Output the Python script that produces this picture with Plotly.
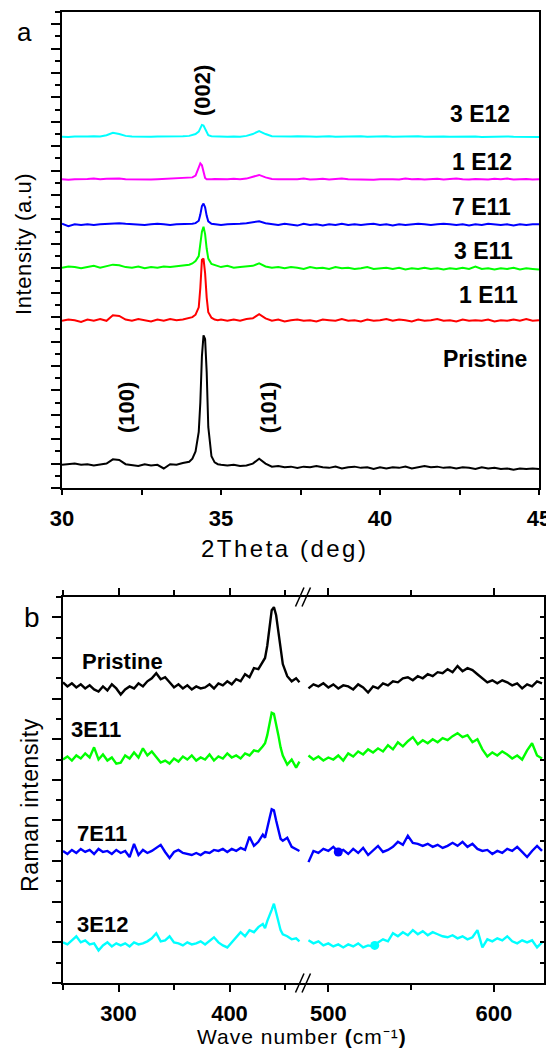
import plotly.graph_objects as go

# ---------------- Panel a : XRD ----------------
xrd_2theta = [30.0,30.2,30.4,30.6,30.8,31.0,31.2,31.4,31.6,31.8,32.0,32.2,32.4,32.6,32.8,33.0,33.2,33.4,33.6,33.8,
              34.0,34.1,34.2,34.3,34.35,34.4,34.45,34.5,34.55,34.6,34.7,34.8,34.9,35.0,
              35.2,35.4,35.6,35.8,36.0,36.2,36.4,36.6,36.8,37.0,37.2,37.4,37.6,37.8,38.0,38.2,38.4,38.6,38.8,
              39.0,39.2,39.4,39.6,39.8,40.0,40.2,40.4,40.6,40.8,41.0,41.2,41.4,41.6,41.8,42.0,42.2,42.4,42.6,
              42.8,43.0,43.2,43.4,43.6,43.8,44.0,44.2,44.4,44.6,44.8,45.0]

xrd_pristine = [1.9,1.95,2.0,1.9,1.95,1.85,1.95,2.0,2.35,2.3,
                1.95,1.9,1.8,1.95,1.85,1.9,1.6,1.95,1.9,2.05,
                2.15,2.4,3.0,4.6,7.0,10.8,12.5,12.2,9.5,5.0,
                2.6,2.1,1.95,1.9,1.85,1.9,1.8,1.85,2.0,2.4,
                2.0,1.75,1.8,1.7,1.75,1.65,1.75,1.7,1.8,1.7,
                1.65,1.75,1.6,1.7,1.75,1.65,1.7,1.55,1.7,1.6,
                1.7,1.65,1.75,1.6,1.7,1.8,1.7,1.75,1.65,1.7,
                1.6,1.7,1.65,1.55,1.7,1.6,1.65,1.55,1.6,1.5,
                1.6,1.55,1.6,1.55]
xrd_1e11 = [13.7,13.8,13.75,13.6,13.8,13.7,13.85,13.7,14.15,14.1,
            13.8,13.7,13.85,13.75,13.65,13.8,13.7,13.85,13.75,13.8,
            13.9,14.0,14.2,14.8,16.4,18.7,18.8,17.6,15.6,14.4,
            13.95,13.8,13.75,13.8,13.7,13.8,13.7,13.85,13.9,14.25,
            13.9,13.7,13.8,13.65,13.75,13.8,13.7,13.75,13.65,13.8,
            13.75,13.7,13.85,13.7,13.75,13.65,13.8,13.7,13.75,13.85,
            13.7,13.8,13.75,13.65,13.8,13.7,13.75,13.85,13.7,13.75,
            13.65,13.8,13.7,13.75,13.7,13.8,13.65,13.75,13.7,13.8,
            13.7,13.85,13.7,13.75]
xrd_3e11 = [18.05,18.15,18.1,18.0,18.1,18.2,18.05,18.15,18.3,18.25,
            18.1,18.05,18.15,18.0,18.1,18.05,18.15,18.1,18.15,18.2,
            18.3,18.4,18.6,19.0,19.9,21.0,21.4,20.8,19.6,18.8,
            18.35,18.25,18.15,18.1,18.2,18.05,18.1,18.15,18.2,18.4,
            18.15,18.05,18.1,18.0,18.1,18.05,17.95,18.1,18.0,18.05,
            17.95,18.1,18.0,18.05,17.95,18.0,18.1,17.95,18.0,18.05,
            17.95,18.05,17.9,18.0,17.95,18.05,17.95,18.0,17.9,18.0,
            17.95,18.05,17.95,18.15,17.95,18.0,17.9,18.0,17.95,18.05,
            17.9,18.0,17.95,17.9]
xrd_7e11 = [21.65,21.45,21.6,21.55,21.6,21.55,21.6,21.65,21.7,21.7,
            21.65,21.6,21.6,21.55,21.6,21.65,21.6,21.55,21.6,21.6,
            21.62,21.65,21.7,21.9,22.4,23.1,23.3,23.0,22.3,21.85,
            21.65,21.6,21.6,21.55,21.6,21.6,21.65,21.7,21.75,21.85,
            21.7,21.6,21.55,21.65,21.6,21.5,21.65,21.55,21.6,21.5,
            21.6,21.55,21.65,21.55,21.6,21.55,21.6,21.65,21.55,21.6,
            21.5,21.6,21.55,21.6,21.65,21.6,21.55,21.6,21.65,21.6,
            21.55,21.6,21.5,21.6,21.55,21.65,21.6,21.55,21.6,21.5,
            21.6,21.55,21.6,21.6]
xrd_1e12 = [25.3,25.25,25.3,25.28,25.32,25.35,25.3,25.33,25.37,25.35,
            25.3,25.28,25.32,25.3,25.27,25.3,25.33,25.3,25.35,25.38,
            25.4,25.45,25.6,26.2,26.6,26.45,25.8,25.4,25.3,25.28,
            25.3,25.32,25.3,25.28,25.3,25.33,25.3,25.35,25.5,25.65,
            25.45,25.32,25.3,25.28,25.32,25.3,25.35,25.28,25.3,25.33,
            25.27,25.3,25.35,25.3,25.28,25.32,25.3,25.26,25.3,25.33,
            25.3,25.28,25.35,25.3,25.32,25.27,25.3,25.33,25.28,25.3,
            25.35,25.3,25.27,25.32,25.3,25.28,25.33,25.3,25.35,25.28,
            25.3,25.32,25.27,25.3]
xrd_3e12 = [28.78,28.75,28.8,28.78,28.8,28.82,28.8,28.9,29.1,29.0,
            28.85,28.8,28.78,28.8,28.78,28.8,28.8,28.78,28.8,28.82,
            28.85,28.9,29.0,29.2,29.5,29.75,29.7,29.4,29.05,28.9,
            28.82,28.8,28.78,28.8,28.78,28.8,28.78,28.85,29.0,29.25,
            29.0,28.82,28.8,28.78,28.8,28.82,28.78,28.8,28.77,28.8,
            28.82,28.78,28.8,28.76,28.8,28.82,28.78,28.8,28.78,28.81,
            28.78,28.8,28.77,28.8,28.82,28.78,28.8,28.76,28.8,28.78,
            28.8,28.82,28.78,28.8,28.76,28.78,28.8,28.77,28.8,28.78,
            28.76,28.78,28.75,28.76]

xrd_series = [xrd_pristine, xrd_1e11, xrd_3e11, xrd_7e11, xrd_1e12, xrd_3e12]
xrd_colors = ["#000000", "#ff0000", "#00ff00", "#0000ff", "#ff00ff", "#00ffff"]
xrd_labels = ["Pristine", "1 E11", "3 E11", "7 E11", "1 E12", "3 E12"]
xrd_label_x = [43.3, 43.4, 43.25, 43.2, 43.2, 43.15]
xrd_label_y = [10.57, 15.8, 19.43, 23.0, 26.7, 30.66]
peak_labels = ["(100)", "(002)", "(101)"]
peak_label_x = [32.03, 34.4, 36.5]
peak_label_y = [6.6, 32.6, 6.6]

# ---------------- Panel b : Raman ----------------
raman_left_x = [250,254,258,262,266,270,274,278,282,286,290,294,298,302,306,310,314,318,322,326,
                330,334,338,342,346,350,354,358,362,366,370,374,378,382,386,390,394,398,402,406,
                410,414,418,422,426,430,432,434,436,438,440,442,444,446,448,452,456,460,463]
raman_right_x = [488,491,494,497,500,503,506,509,512,515,518,521,524,527,530,533,536,539,542,545,
                 548,551,554,557,560,563,566,569,572,575,578,581,584,587,590,593,596,599,602,605,
                 608,611,614,617,620,623,626,629]

raman_pristine_left = [14.8,14.6,14.75,14.55,14.7,14.5,14.65,14.45,14.35,14.6,
                       14.4,14.7,14.5,14.2,14.45,14.6,14.5,14.75,14.6,14.85,
                       15.0,15.25,14.95,15.05,14.8,14.55,14.7,14.5,14.65,14.45,
                       14.6,14.5,14.55,14.7,14.5,14.75,14.65,14.85,14.7,14.95,
                       14.85,15.2,15.05,15.5,15.45,
                       15.85,16.0,16.6,17.6,18.35,18.5,18.1,17.3,16.4,15.7,
                       15.1,14.85,15.0,14.8]
raman_pristine_right = [14.5,14.7,14.6,14.75,14.55,14.7,14.5,14.65,14.6,14.45,
                        14.7,14.55,14.3,14.6,14.5,14.75,14.65,14.85,14.8,15.0,
                        15.05,14.9,15.1,15.0,15.2,15.1,15.3,15.25,15.45,15.3,
                        15.6,15.35,15.5,15.4,15.2,15.0,14.8,14.9,14.75,14.9,
                        14.8,14.65,14.75,14.5,14.7,14.6,14.85,14.75]
raman_3e11_left = [11.0,11.15,10.95,11.2,11.05,11.3,11.1,11.6,11.0,11.25,
                   10.95,11.1,10.8,10.85,11.2,11.05,11.35,11.1,11.55,11.2,
                   11.4,11.15,10.85,10.95,10.8,11.05,10.9,11.15,11.0,11.2,
                   10.95,11.1,11.0,11.25,10.95,11.15,11.05,11.3,11.1,11.2,
                   11.05,11.3,11.2,11.45,11.4,
                   11.65,11.8,12.2,12.8,13.3,13.25,12.8,12.2,11.6,11.2,
                   10.75,11.0,10.6,10.9]
raman_3e11_right = [11.2,11.0,11.15,10.95,11.1,11.0,11.2,10.95,11.3,11.15,
                    11.4,11.25,11.5,11.35,11.55,11.4,11.7,11.5,11.85,11.65,
                    11.9,12.1,11.75,11.95,11.8,12.0,11.85,12.05,11.95,12.15,
                    12.3,12.1,12.2,11.85,12.0,11.5,11.15,11.35,11.2,11.4,
                    11.25,11.05,11.2,11.0,11.45,11.8,11.2,11.05]
raman_7e11_left = [6.5,6.35,6.55,6.4,6.6,6.45,6.55,6.35,6.6,6.45,
                   6.5,6.35,6.55,6.4,6.5,6.2,6.85,6.3,6.55,6.4,
                   6.5,6.65,6.8,6.45,6.15,6.45,6.55,6.4,6.35,6.3,
                   6.4,6.3,6.45,6.4,6.55,6.5,6.6,6.45,6.6,6.5,
                   6.65,6.55,7.2,6.75,6.95,
                   7.3,7.15,7.7,8.1,8.55,8.5,8.0,7.5,7.1,7.0,
                   7.15,6.7,6.6,6.5]
raman_7e11_right = [5.95,6.5,6.4,6.6,6.5,6.7,6.45,6.55,6.35,6.6,
                    6.4,6.65,6.3,6.55,6.75,6.45,6.55,6.7,6.95,6.8,
                    7.25,6.9,6.85,6.75,6.85,6.7,6.8,6.65,6.75,6.9,
                    6.75,6.95,6.7,6.85,6.6,6.5,6.55,6.35,6.5,6.4,
                    6.6,6.5,6.7,6.45,6.2,6.5,6.75,6.5]
raman_3e12_left = [2.0,1.9,2.1,2.3,2.0,2.1,1.9,1.95,1.6,1.85,
                   2.0,1.8,1.95,1.85,1.95,1.8,2.0,1.9,1.95,2.05,
                   2.2,2.45,2.05,2.1,2.3,2.0,1.95,1.85,2.0,1.9,
                   1.95,2.05,1.9,2.1,2.25,2.0,1.85,1.75,2.0,2.2,
                   2.5,2.3,2.6,2.5,2.75,
                   2.9,2.7,3.05,3.3,3.6,3.9,3.5,3.0,2.6,2.4,
                   2.3,2.15,2.2,2.05]
raman_3e12_right = [2.1,1.95,2.05,1.85,1.95,1.8,1.9,1.75,1.9,1.8,
                    1.95,1.75,1.85,1.8,2.0,2.15,2.05,2.45,2.3,2.5,
                    2.35,2.6,2.4,2.55,2.35,2.5,2.4,2.3,2.25,2.35,
                    2.2,2.3,2.15,2.25,2.6,1.75,2.15,2.05,2.2,2.1,
                    2.3,2.05,1.95,2.1,2.0,2.1,1.75,2.0]

raman_left = [raman_pristine_left, raman_3e11_left, raman_7e11_left, raman_3e12_left]
raman_right = [raman_pristine_right, raman_3e11_right, raman_7e11_right, raman_3e12_right]
raman_colors = ["#000000", "#00ff00", "#0000ff", "#00ffff"]
raman_labels = ["Pristine", "3E11", "7E11", "3E12"]
raman_label_x = [303.6, 279.3, 285.1, 285.4]
raman_label_y = [15.83, 12.47, 7.35, 2.89]
# blobs visible on the traces
blob_x = [506, 528]
blob_y = [6.45, 1.85]
blob_colors = ["#0000ff", "#00ffff"]

FONT = "Liberation Sans, Arial, sans-serif"

# The page body adds an 8 px offset; layout below is expressed in screen pixels
OFF = 8
W, H = 554 - OFF, 1050 - OFF
PL, PR, PT, PB = 62, 544, 12, 983          # plot-area edges in screen pixels
ML, MR, MT, MB = PL - OFF, (W + OFF) - PR, PT - OFF, (H + OFF) - PB
PW, PH = PR - PL, PB - PT


def px_x(p):
    return (p - PL) / PW


def px_y(p):
    return (PB - p) / PH


fig = go.Figure()

for ys, c in zip(xrd_series, xrd_colors):
    fig.add_trace(go.Scatter(x=xrd_2theta, y=ys, mode="lines", line=dict(color=c, width=2),
                             xaxis="x", yaxis="y", hoverinfo="skip"))

for ys, c in zip(raman_left, raman_colors):
    fig.add_trace(go.Scatter(x=raman_left_x, y=ys, mode="lines", line=dict(color=c, width=2.4),
                             xaxis="x2", yaxis="y2", hoverinfo="skip"))
for ys, c in zip(raman_right, raman_colors):
    fig.add_trace(go.Scatter(x=raman_right_x, y=ys, mode="lines", line=dict(color=c, width=2.4),
                             xaxis="x3", yaxis="y2", hoverinfo="skip"))
fig.add_trace(go.Scatter(x=blob_x, y=blob_y, mode="markers",
                         marker=dict(color=blob_colors, size=9), xaxis="x3", yaxis="y2", hoverinfo="skip"))
# dummy trace so the right-side mirror axis is drawn
fig.add_trace(go.Scatter(x=[None], y=[None], xaxis="x3", yaxis="y3", showlegend=False))

ax_common = dict(showline=True, linecolor="black", linewidth=2, showgrid=False, zeroline=False,
                 tickcolor="black", tickwidth=1.5, automargin=False)

fig.update_layout(
    width=W, height=H, margin=dict(l=ML, r=MR, t=MT, b=MB, pad=0, autoexpand=False),
    paper_bgcolor="white", plot_bgcolor="white", showlegend=False,
    xaxis=dict(domain=[0, px_x(539)], range=[30, 45], anchor="y", mirror=True,
               ticks="outside", ticklen=5, tick0=30, dtick=5,
               minor=dict(dtick=2.5, ticks="outside", ticklen=5, tickwidth=1.5, tickcolor="black"),
               tickfont=dict(family=FONT, size=22, color="black", weight="bold"),
               ticklabelstandoff=5, **ax_common),
    yaxis=dict(domain=[px_y(488), 1], range=[0, 39], anchor="x", mirror=True,
               ticks="outside", ticklen=9, tick0=0, dtick=2, showticklabels=False,
               minor=dict(dtick=1, ticks="outside", ticklen=5, tickwidth=1.5, tickcolor="black"),
               **ax_common),
    xaxis2=dict(domain=[px_x(63), px_x(303)], range=[250, 466.2], anchor="y2", mirror="ticks",
                ticks="outside", ticklen=7, tick0=0, dtick=100,
                minor=dict(dtick=50, ticks="outside", ticklen=5, tickwidth=1.5, tickcolor="black"),
                tickfont=dict(family=FONT, size=22, color="black", weight="bold"),
                ticklabelstandoff=3, **ax_common),
    xaxis3=dict(domain=[px_x(303), 1], range=[484.7, 630.2], anchor="y2", mirror="ticks",
                ticks="outside", ticklen=7, tick0=0, dtick=100,
                minor=dict(dtick=50, ticks="outside", ticklen=5, tickwidth=1.5, tickcolor="black"),
                tickfont=dict(family=FONT, size=22, color="black", weight="bold"),
                ticklabelstandoff=3, **ax_common),
    yaxis2=dict(domain=[0, px_y(597)], range=[0, 19], anchor="x2",
                ticks="outside", ticklen=9, tick0=0, dtick=2, showticklabels=False,
                minor=dict(dtick=1, ticks="outside", ticklen=5, tickwidth=1.5, tickcolor="black"),
                **ax_common),
    yaxis3=dict(overlaying="y2", side="right", anchor="x3", range=[0, 19],
                ticks="inside", ticklen=4, tick0=0, dtick=1, showticklabels=False,
                **ax_common),
)

ann = []
for t, x, y in zip(xrd_labels, xrd_label_x, xrd_label_y):
    ann.append(dict(x=x, y=y, xref="x", yref="y", text="<b>%s</b>" % t, showarrow=False,
                    xanchor="center", yanchor="middle",
                    font=dict(family=FONT, size=23, color="black")))
for t, x, y in zip(peak_labels, peak_label_x, peak_label_y):
    ann.append(dict(x=x, y=y, xref="x", yref="y", text="<b>%s</b>" % t, showarrow=False, textangle=-90,
                    xanchor="center", yanchor="middle",
                    font=dict(family=FONT, size=22, color="black")))
for t, x, y in zip(raman_labels, raman_label_x, raman_label_y):
    ann.append(dict(x=x, y=y, xref="x2", yref="y2", text="<b>%s</b>" % t, showarrow=False,
                    xanchor="center", yanchor="middle",
                    font=dict(family=FONT, size=22, color="black")))


def paper_text(text, sx, sy, size, angle=0):
    return dict(x=px_x(sx), y=px_y(sy), xref="paper", yref="paper", text=text, showarrow=False,
                xanchor="center", yanchor="middle", textangle=angle,
                font=dict(family=FONT, size=size, color="black"))


ann += [
    paper_text("a", 24, 32, 26),
    paper_text("b", 32, 617, 28),
    paper_text('<span style="letter-spacing:2.5px">2Theta (deg)</span>', 284, 548, 24),
    paper_text('<span style="letter-spacing:0.6px">Intensity (a.u)</span>', 24, 244, 22, -90),
    paper_text('<span style="letter-spacing:0.6px">Raman intensity</span>', 30, 805, 23, -90),
    paper_text('<span style="letter-spacing:1px">Wave number <b>(</b>cm\u207b\u00b9<b>)</b></span>',
               302, 1036, 21),
]
fig.update_layout(annotations=ann)

# axis-break marks "//" at top and bottom of panel b
shapes = []
for cy in (597, 983):
    for dx in (-7.5, -1.0):
        shapes.append(dict(type="line", xref="paper", yref="paper",
                           x0=px_x(303 + dx), y0=px_y(cy + 9.5),
                           x1=px_x(303 + dx + 8.5), y1=px_y(cy - 9.5),
                           line=dict(color="black", width=1.5)))
fig.update_layout(shapes=shapes)

fig.write_html("out.html")
